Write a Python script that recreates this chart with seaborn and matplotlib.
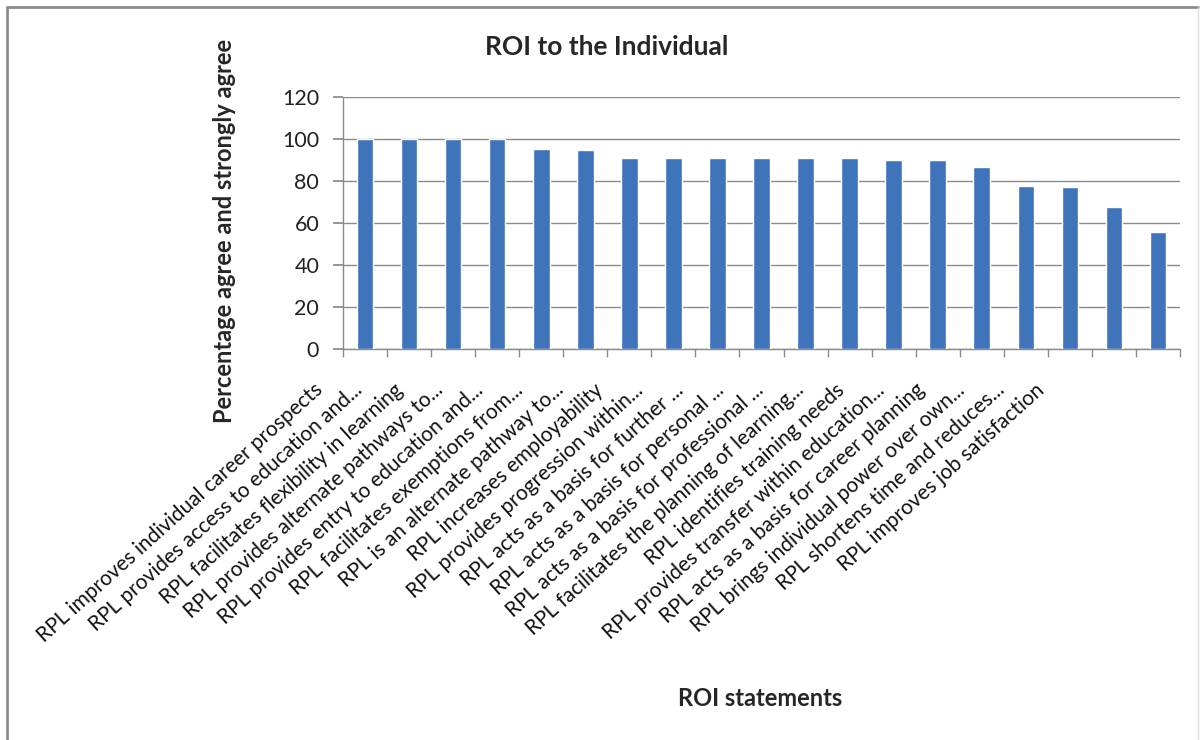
import numpy as np
import pandas as pd
import matplotlib.pyplot as plt
import seaborn as sns
from matplotlib.lines import Line2D
from matplotlib.ticker import FixedLocator

sns.set_theme(style="white")
plt.rcParams['font.family'] = ['Lato', 'DejaVu Sans']

statements = [
    "RPL improves individual career prospects",
    "RPL provides access to education and...",
    "RPL facilitates flexibility in learning",
    "RPL provides alternate pathways to...",
    "RPL provides entry to education and...",
    "RPL facilitates exemptions from...",
    "RPL is an alternate pathway to...",
    "RPL increases employability",
    "RPL provides progression within...",
    "RPL acts as a basis for further ...",
    "RPL acts as a basis for personal ...",
    "RPL acts as a basis for professional ...",
    "RPL facilitates the planning of learning...",
    "RPL identifies training needs",
    "RPL provides transfer within education...",
    "RPL acts as a basis for career planning",
    "RPL brings individual power over own...",
    "RPL shortens time and reduces...",
    "RPL improves job satisfaction",
]
percent = [100, 100, 100, 100, 95.3, 94.7, 91.0, 91.0, 91.0, 91.0, 91.0, 91.0,
           90.2, 89.9, 86.8, 77.6, 77.0, 67.6, 55.9]

df = pd.DataFrame({"Statement": statements, "Percent": percent})

fig = plt.figure(figsize=(12.03, 7.40), dpi=100)
ax = fig.add_axes([0.285, 0.528, 0.696, 0.341])

sns.barplot(data=df, x="Statement", y="Percent", color="#3f73ba", width=0.38,
            saturation=1, ax=ax, zorder=3)

ax.set_ylim(0, 120)
ax.set_yticks(np.arange(0, 121, 20))
ax.set_xlim(-0.5, len(statements) - 0.5)
ax.yaxis.grid(True, color="#8a8a8a", linewidth=1.0, zorder=0)
ax.xaxis.grid(False)
for side in ["top", "right"]:
    ax.spines[side].set_visible(False)
for side in ["left", "bottom"]:
    ax.spines[side].set_color("#8a8a8a")
    ax.spines[side].set_linewidth(1.0)

ax.tick_params(axis="y", which="major", left=True, length=7, color="#8a8a8a",
               labelsize=15.5, pad=10, labelcolor="#222222")
ax.tick_params(axis="x", which="major", bottom=False, labelbottom=False)
ax.xaxis.set_minor_locator(FixedLocator(np.arange(-0.5, len(statements), 1)))
ax.tick_params(axis="x", which="minor", bottom=True, length=6, color="#8a8a8a",
               direction="out")

# category labels: Excel packs the rotated labels a bit tighter than the bars
for i, s in enumerate(statements):
    ax.text((-23 + i * 40.1) / 837, -0.15, s, transform=ax.transAxes,
            rotation=42, rotation_mode="anchor", ha="right", va="center",
            fontsize=15, color="#111111")

ax.set_xlabel("")
ax.set_ylabel("")
fig.text(0.504, 0.937, "ROI to the Individual", ha="center", va="center",
         fontsize=19, fontweight="bold")
fig.text(0.187, 0.688, "Percentage agree and strongly agree", ha="center",
         va="center", rotation=90, fontsize=17, fontweight="bold")
fig.text(0.632, 0.056, "ROI statements", ha="center", va="center",
         fontsize=17, fontweight="bold")

# outer chart frame
frame_col = "#8c8c8c"
fig.add_artist(Line2D([0.006, 0.006], [0.0, 0.990], transform=fig.transFigure,
                      color=frame_col, linewidth=2))
fig.add_artist(Line2D([0.006, 0.996], [0.990, 0.990], transform=fig.transFigure,
                      color=frame_col, linewidth=2))
fig.add_artist(Line2D([0.996, 0.996], [0.0, 0.990], transform=fig.transFigure,
                      color="#dddddd", linewidth=1))

fig.savefig("out.png", dpi=100)
